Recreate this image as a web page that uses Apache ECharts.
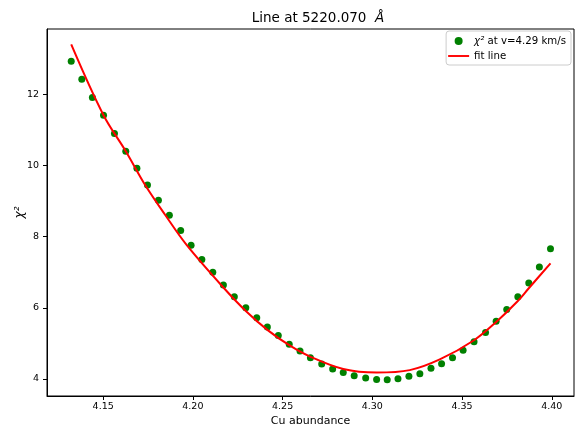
<!DOCTYPE html>
<html>
<head>
<meta charset="utf-8">
<script src="https://cdn.jsdelivr.net/npm/echarts@6/dist/echarts.min.js"></script>
<style>
  html, body { margin: 0; padding: 0; background: #fff; }
  #chart { width: 576px; height: 433px; }
</style>
</head>
<body>
<div id="chart"></div>
<script>
// Cu abundance grid and chi-square values at v = 4.29 km/s
const abundance = [
  4.1322, 4.1381, 4.1440, 4.1502, 4.1563, 4.1626, 4.1688, 4.1747, 4.1808, 4.1869,
  4.1932, 4.1990, 4.2050, 4.2111, 4.2170, 4.2231, 4.2295, 4.2356, 4.2415, 4.2476,
  4.2537, 4.2597, 4.2655, 4.2718, 4.2779, 4.2838, 4.2899, 4.2963, 4.3024, 4.3083,
  4.3143, 4.3204, 4.3265, 4.3327, 4.3386, 4.3447, 4.3506, 4.3567, 4.3631, 4.3690,
  4.3749, 4.3811, 4.3872, 4.3931, 4.3993
];
const chi2 = [
  12.93, 12.42, 11.91, 11.41, 10.90, 10.40, 9.92, 9.45, 9.02, 8.60,
  8.17, 7.76, 7.36, 7.00, 6.64, 6.31, 6.00, 5.72, 5.46, 5.22,
  4.98, 4.79, 4.60, 4.42, 4.28, 4.18, 4.09, 4.03, 3.99, 3.98,
  4.01, 4.08, 4.15, 4.30, 4.43, 4.60, 4.81, 5.05, 5.31, 5.62,
  5.95, 6.31, 6.70, 7.15, 7.66
];

// Fitted curve, sampled along the abundance range
const fitAbundance = [
  4.1322, 4.1502, 4.1626, 4.1734, 4.1847, 4.1966, 4.2170, 4.2295, 4.2415, 4.2537,
  4.2653, 4.2838, 4.3024, 4.3209, 4.3376, 4.3567, 4.3692, 4.3811, 4.3872, 4.3993
];
const fitChi2 = [
  13.40, 11.41, 10.40, 9.45, 8.60, 7.76, 6.57, 5.91, 5.38, 4.95,
  4.63, 4.28, 4.18, 4.25, 4.55, 5.09, 5.61, 6.19, 6.55, 7.25
];

const xTicks = [4.15, 4.20, 4.25, 4.30, 4.35, 4.40];
const yTicks = [4, 6, 8, 10, 12];

const pointsName = 'χ² at v=4.29 km/s';
const lineName = 'fit line';

const FONT = 'DejaVu Sans';

const chart = echarts.init(document.getElementById('chart'), null, { renderer: 'canvas' });

chart.setOption({
  animation: false,
  backgroundColor: '#ffffff',
  title: {
    text: '{n|Line at 5220.070  }{i|Å}',
    left: 318,
    top: 11,
    textAlign: 'center',
    padding: 0,
    textStyle: {
      fontWeight: 'normal',
      rich: {
        n: { fontFamily: FONT, fontSize: 13.5, fontWeight: 'normal', color: '#000' },
        i: { fontFamily: FONT, fontSize: 13.5, fontWeight: 'normal', fontStyle: 'italic', color: '#000' }
      }
    }
  },
  legend: {
    orient: 'vertical',
    right: 5,
    top: 31,
    padding: [5, 5, 4, 2],
    itemGap: 5,
    itemWidth: 21,
    itemHeight: 8,
    backgroundColor: 'rgba(255,255,255,0.8)',
    borderColor: '#cccccc',
    borderWidth: 1,
    borderRadius: 3,
    data: [
      { name: pointsName, icon: 'circle' },
      { name: lineName, icon: 'path://M0,0L22,0L22,2L0,2Z', symbolKeepAspect: true }
    ],
    formatter: function (name) {
      if (name === pointsName) return '{i|χ²}{t| at v=4.29 km/s}';
      return '{t|' + name + '}';
    },
    textStyle: {
      rich: {
        i: { fontFamily: FONT, fontSize: 10.2, fontStyle: 'italic', color: '#000' },
        t: { fontFamily: FONT, fontSize: 10.2, color: '#000' }
      }
    }
  },
  grid: {
    left: 47,
    right: 2,
    top: 29,
    bottom: 37,
    outerBoundsMode: 'none',
    containLabel: false,
    show: true,
    borderColor: '#000',
    borderWidth: 1,
    backgroundColor: 'transparent'
  },
  xAxis: {
    type: 'value',
    min: 4.1187,
    max: 4.4124,
    name: 'Cu abundance',
    nameLocation: 'middle',
    nameGap: 20,
    nameMoveOverlap: false,
    nameTextStyle: { fontFamily: FONT, fontSize: 11, color: '#000' },
    axisLine: { show: true, lineStyle: { color: '#000', width: 1 } },
    axisTick: { show: true, length: 4, customValues: xTicks, lineStyle: { color: '#000' } },
    axisLabel: {
      customValues: xTicks,
      margin: 6,
      fontFamily: FONT,
      fontSize: 9.5,
      color: '#000',
      formatter: v => v.toFixed(2)
    },
    splitLine: { show: false }
  },
  yAxis: {
    type: 'value',
    min: 3.523,
    max: 13.833,
    name: '{i|χ²}',
    nameLocation: 'middle',
    nameGap: 21,
    nameMoveOverlap: false,
    nameRotate: 90,
    nameTextStyle: {
      rich: {
        i: { fontFamily: FONT, fontSize: 12, fontStyle: 'italic', color: '#000' }
      }
    },
    axisLine: { show: true, lineStyle: { color: '#000', width: 1 } },
    axisTick: { show: true, length: 4, customValues: yTicks, lineStyle: { color: '#000' } },
    axisLabel: {
      customValues: yTicks,
      margin: 8,
      fontFamily: FONT,
      fontSize: 9.5,
      color: '#000'
    },
    splitLine: { show: false }
  },
  series: [
    {
      name: pointsName,
      type: 'scatter',
      symbol: 'circle',
      symbolSize: 7,
      itemStyle: { color: '#008000', opacity: 1 },
      data: abundance.map((x, i) => [x, chi2[i]]),
      z: 2
    },
    {
      name: lineName,
      type: 'line',
      symbol: 'none',
      smooth: 0.35,
      lineStyle: { color: '#ff0000', width: 2 },
      itemStyle: { color: '#ff0000' },
      data: fitAbundance.map((x, i) => [x, fitChi2[i]]),
      z: 3
    }
  ]
});
</script>
</body>
</html>
